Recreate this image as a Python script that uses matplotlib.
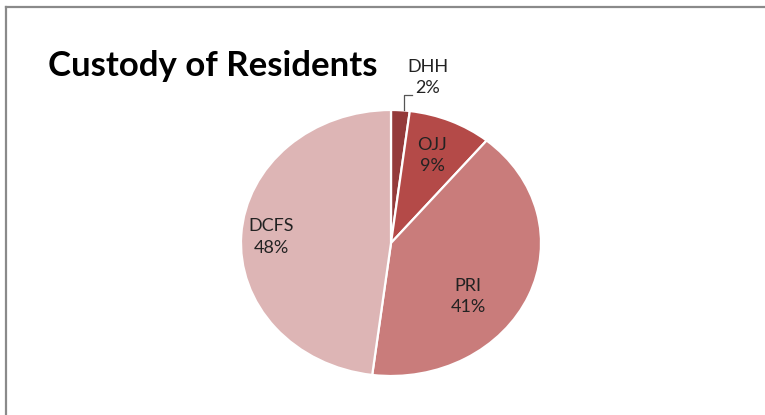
import matplotlib
matplotlib.use("Agg")
import matplotlib.pyplot as plt
from matplotlib.lines import Line2D

categories = ["DHH", "OJJ", "PRI", "DCFS"]
values = [2, 9, 41, 48]
colors = ["#943B3B", "#B44A48", "#C97C7B", "#DDB5B5"]
title = "Custody of Residents"

W, H = 765, 415
fig = plt.figure(figsize=(W / 100, H / 100), dpi=100)
fig.patch.set_facecolor("white")

# pie axes: center (391,243) px, rx 150, ry 133
cx, cy, rx, ry = 391, 243, 150, 133
ax = fig.add_axes([(cx - 1.25 * rx) / W, (H - cy - 1.25 * ry) / H, 2.5 * rx / W, 2.5 * ry / H])
ax.pie(values, colors=colors, startangle=90, counterclock=False,
       wedgeprops=dict(edgecolor="white", linewidth=1.6))
ax.set_aspect("auto")
ax.set_xlim(-1.25, 1.25)
ax.set_ylim(-1.25, 1.25)
ax.axis("off")

font = "Lato"
label_pos = {"DHH": (0.247, 1.245), "OJJ": (0.275, 0.66), "PRI": (0.513, -0.40), "DCFS": (-0.80, 0.045)}
for name, v in zip(categories, values):
    x, y = label_pos[name]
    ax.text(x, y, f"{name}\n{v}%", ha="center", va="center", fontsize=13,
            family=font, color="#222222", linespacing=1.4, clip_on=False)

# leader line for DHH
ax.plot([0.087, 0.087, 0.14], [1.0, 1.113, 1.113], color="#555555", lw=0.9, clip_on=False)

fig.text(48 / W, (H - 76) / H, title, ha="left", va="baseline", fontsize=25,
         fontweight="bold", family=font, color="black")

# frame lines (top and left)
fig.add_artist(Line2D([6 / W, 1.0], [(H - 7.5) / H, (H - 7.5) / H], color="#8a8a8a", lw=1.6))
fig.add_artist(Line2D([6.5 / W, 6.5 / W], [0, (H - 7) / H], color="#8a8a8a", lw=1.6))

fig.savefig("out.png", dpi=100)
